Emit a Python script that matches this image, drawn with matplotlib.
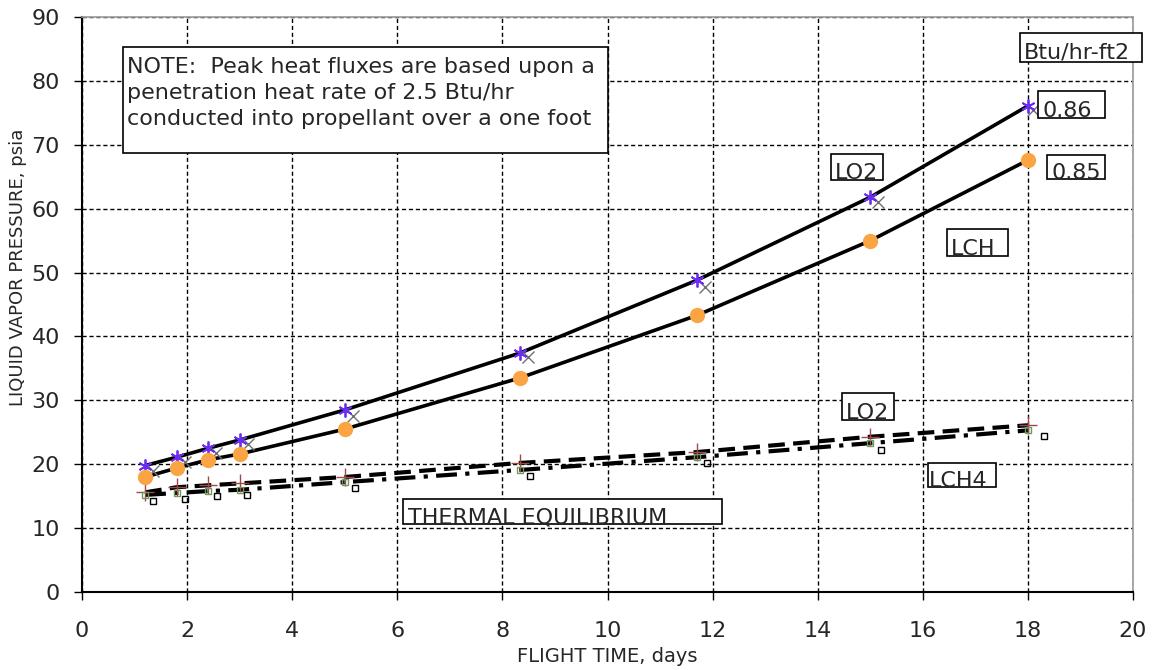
import matplotlib
matplotlib.use("Agg")
import matplotlib.pyplot as plt
from matplotlib.patches import Rectangle

# flight time, days
days = [1.2, 1.8, 2.4, 3.0, 5.0, 8.33, 11.7, 15.0, 18.0]

# peak heat flux runs
lo2_peak = [19.8, 21.1, 22.5, 23.8, 28.5, 37.4, 48.8, 61.8, 76.1]
lch4_peak = [18.0, 19.4, 20.7, 21.6, 25.5, 33.5, 43.3, 55.0, 67.6]
check_days = [1.35, 1.95, 2.55, 3.15, 5.15, 8.48, 11.85, 15.15, 18.1]
check_peak = [19.0, 20.4, 21.8, 23.2, 27.6, 36.8, 47.8, 61.0, 75.5]

# thermal equilibrium runs
lo2_eq = [15.6, 16.4, 16.7, 17.0, 18.0, 20.2, 21.9, 24.3, 26.1]
lch4_eq = [15.2, 15.5, 15.8, 16.0, 17.2, 19.1, 21.1, 23.3, 25.3]
check_eq_days = [1.35, 1.96, 2.57, 3.14, 5.2, 8.52, 11.9, 15.2, 18.3]
check_eq = [14.2, 14.5, 15.0, 15.2, 16.3, 18.2, 20.2, 22.2, 24.4]

note_lines = ["NOTE:  Peak heat fluxes are based upon a",
              "penetration heat rate of 2.5 Btu/hr",
              "conducted into propellant over a one foot"]

plt.rcParams["font.family"] = "DejaVu Sans"

fig = plt.figure(figsize=(11.59, 6.70), dpi=100)
ax = fig.add_axes([0.0708, 0.1164, 0.9068, 0.8582])

ax.plot(days, lo2_peak, color="black", lw=2.6, zorder=3)
ax.plot(days, lch4_peak, color="black", lw=2.6, zorder=3)
ax.plot(check_days, check_peak, ls="none", marker="x", ms=8, mew=1.0,
        color="#707070", zorder=4)
ax.plot(days, lo2_peak, ls="none", marker=(6, 2, 0), ms=10, mew=1.3,
        color="#6a2cf0", zorder=5)
ax.plot(days, lch4_peak, ls="none", marker="o", ms=10, color="#fba444",
        mec="#fba444", zorder=5)

ax.plot(days, lo2_eq, color="black", lw=3.0, ls=(0, (4, 2)), zorder=3)
ax.plot(days, lch4_eq, color="black", lw=3.0, ls=(0, (5, 2, 1, 2)), zorder=3)
ax.plot(days, lo2_eq, ls="none", marker="+", ms=13, mew=1.0,
        color="#a04848", zorder=4)
ax.plot(days, lch4_eq, ls="none", marker="s", ms=5, mew=1.0, mfc="none",
        mec="#6e9a5e", zorder=4)
ax.plot(check_eq_days, check_eq, ls="none", marker="s", ms=4, mew=1.0,
        mfc="none", mec="black", zorder=4)

ax.set_xlim(0, 20)
ax.set_ylim(0, 90)
ax.set_xticks(range(0, 21, 2))
ax.set_yticks(range(0, 91, 10))
ax.tick_params(axis="both", direction="out", length=6, width=1,
               labelsize=16, colors="black", labelcolor="#262626")
ax.tick_params(axis="x", pad=15)
ax.tick_params(axis="y", pad=10)
ax.grid(True, color="black", ls=(0, (3, 2)), lw=1.0)
ax.set_axisbelow(True)

for side in ["top", "right"]:
    ax.spines[side].set_color("#9a9a9a")
    ax.spines[side].set_linewidth(1.2)
for side in ["left", "bottom"]:
    ax.spines[side].set_color("black")
    ax.spines[side].set_linewidth(1.5)

ax.set_xlabel("FLIGHT TIME, days", fontsize=14, color="#262626")
ax.xaxis.set_label_coords(0.5, -0.096)
ax.set_ylabel("LIQUID VAPOR PRESSURE, psia", fontsize=13, color="#262626")
ax.yaxis.set_label_coords(-0.052, 0.565)


def boxed(x0, x1, y0, y1, text, dx=0.076, dy=0.1, size=16):
    rect = Rectangle((x0, y0), x1 - x0, y1 - y0, fc="white", ec="black",
                     lw=1.2, zorder=6, clip_on=False)
    ax.add_patch(rect)
    t = ax.text(x0 + dx, y0 + dy, text, fontsize=size, va="baseline",
                ha="left", color="#262626", zorder=7)
    t.set_clip_path(rect)
    return t


# note box with three text lines
note_box = Rectangle((0.78, 68.7), 10.0 - 0.78, 85.3 - 68.7, fc="white",
                     ec="black", lw=1.2, zorder=6)
ax.add_patch(note_box)
for line, yb in zip(note_lines, [81.2, 77.2, 73.1]):
    ax.text(0.86, yb, line, fontsize=16, va="baseline", ha="left",
            color="#262626", zorder=7)

t = boxed(17.85, 20.17, 82.9, 87.5, "Btu/hr-ft2", dy=0.6)
t.set_clip_on(False)
boxed(18.2, 19.47, 74.2, 78.4, "0.86")
boxed(18.36, 19.47, 64.6, 68.4, "0.85", dx=0.095)
boxed(14.25, 15.24, 64.5, 68.5, "LO2")
boxed(16.46, 17.62, 52.6, 56.8, "LCH")
boxed(14.46, 15.45, 27.0, 31.1, "LO2")
boxed(16.1, 17.39, 16.4, 20.2, "LCH4", dx=0.02)
boxed(6.11, 12.18, 10.6, 14.5, "THERMAL EQUILIBRIUM", dx=0.095)

fig.savefig("out.png", dpi=100)
plt.close(fig)
